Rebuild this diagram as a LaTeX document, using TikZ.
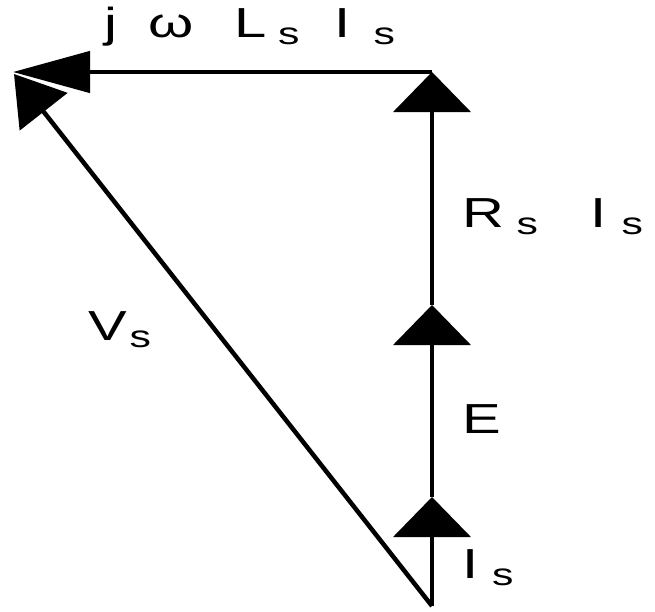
\documentclass[tikz,border=0pt]{standalone}
\usepackage{fontspec}
\setmainfont{Liberation Sans}
\usetikzlibrary{arrows.meta, math}
\newcommand{\lowsub}[1]{\raisebox{-7pt}{\fontsize{31}{31}\selectfont #1}}
\tikzset{
  phasor/.style={line width=4.5pt},
  uptip/.style={-{Triangle[length=40pt,width=77pt]}},
  lefttip/.style={-{Triangle[length=77pt,width=41pt]}},
  slanttip/.style={-{Triangle[length=48pt,width=60pt]}},
  lbl/.style={font=\fontsize{42}{48}\selectfont, inner sep=0pt,
    anchor=base west, xscale=1.38, transform shape}
}
\begin{document}
\begin{tikzpicture}[x=1pt,y=-1pt]
\tikzmath{
\xv=432;
\yo=606;
\ytop=72;
}
\useasboundingbox (0,0) rectangle (655,611);
%points
\coordinate (O) at (\xv,\yo);
\coordinate (Itip) at (\xv,497);
\coordinate (Etip) at (\xv,305);
\coordinate (Rtip) at (\xv,\ytop);
\coordinate (Ltip) at (13,\ytop);
\coordinate (Vtip) at (14,74);

%voltage
\draw[phasor,slanttip] (O) -- (Vtip);
%drops
\draw[phasor,lefttip] (Rtip) -- (Ltip);
\draw[phasor,uptip] (O) -- (Itip);
\draw[phasor,uptip] (Itip) -- (Etip);
\draw[phasor,uptip] (Etip) -- (Rtip);

%labels
\node[lbl] (jwl) at (104,37) {j\hspace{22.5pt}ω\hspace{30pt}L\hspace{8pt}\lowsub{s}\hspace{25pt}I\hspace{17pt}\lowsub{s}};
\node[lbl] (ri) at (462,227) {R\hspace{9pt}\lowsub{s}\hspace{38pt}I\hspace{11pt}\lowsub{s}};
\node[lbl] (e) at (462,433) {E};
\node[lbl] (is) at (462,578) {I\hspace{10pt}\lowsub{s}};
\node[lbl] (vs) at (88,340) {V\hspace{2pt}\lowsub{s}};
\end{tikzpicture}
\end{document}
